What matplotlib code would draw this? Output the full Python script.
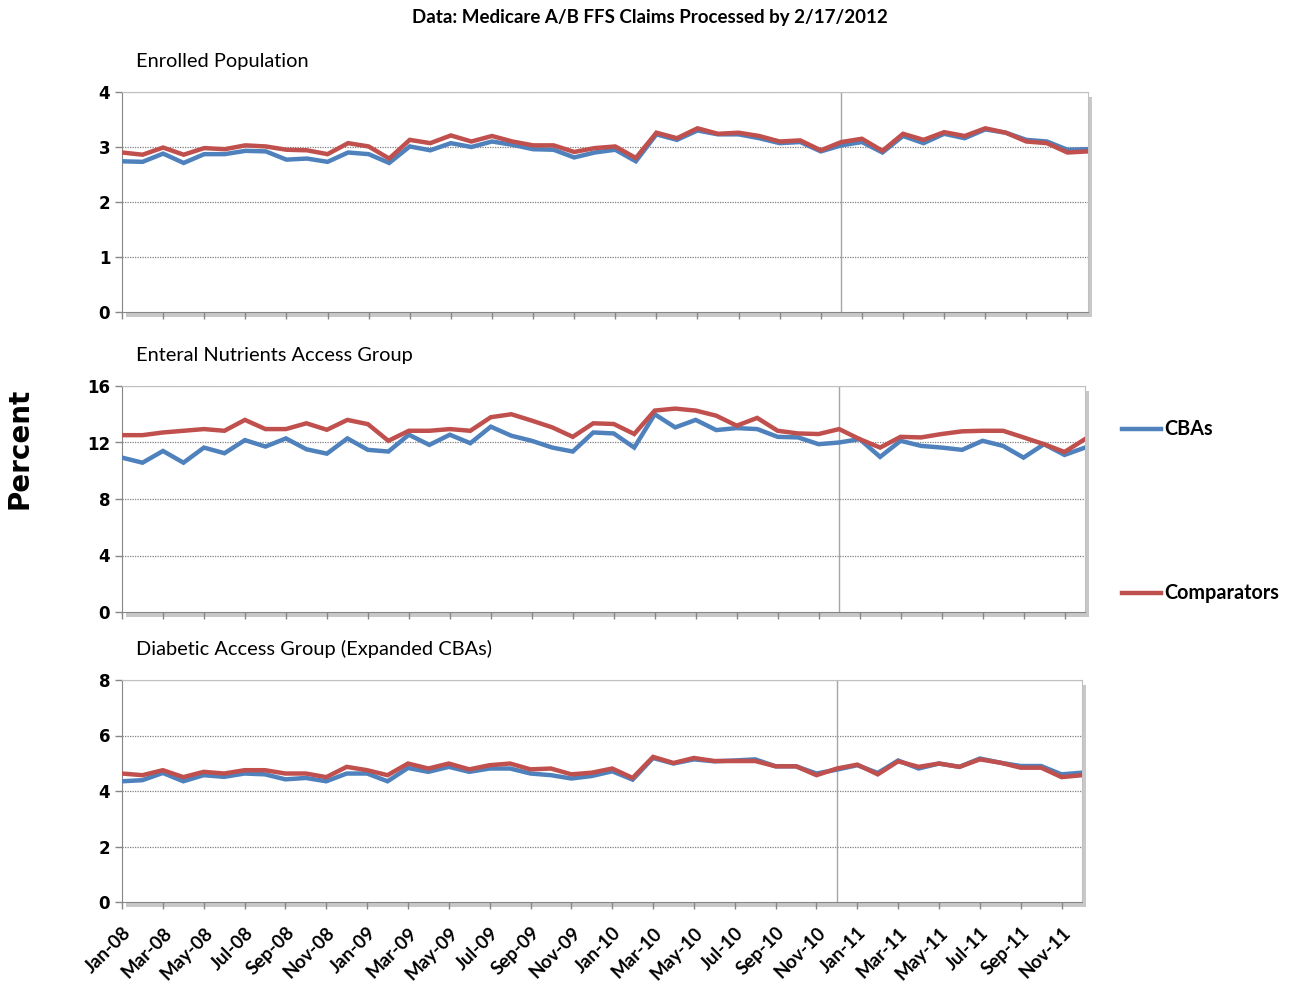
import matplotlib
matplotlib.use('Agg')
import matplotlib.pyplot as plt
from matplotlib.patches import Rectangle
import numpy as np

months = ['Jan', 'Feb', 'Mar', 'Apr', 'May', 'Jun', 'Jul', 'Aug', 'Sep', 'Oct', 'Nov', 'Dec']
month_labels = ['%s-%02d' % (m, y) for y in (8, 9, 10, 11) for m in months]

enrolled_cba = [2.74, 2.73, 2.88, 2.71, 2.87, 2.87, 2.93, 2.92, 2.77, 2.79, 2.73, 2.90,
                2.87, 2.71, 3.01, 2.94, 3.07, 3.00, 3.10, 3.04, 2.96, 2.95, 2.81, 2.90,
                2.95, 2.74, 3.23, 3.13, 3.30, 3.23, 3.23, 3.16, 3.07, 3.09, 2.92, 3.03,
                3.09, 2.90, 3.20, 3.07, 3.24, 3.16, 3.32, 3.26, 3.13, 3.10, 2.95, 2.96]
enrolled_comp = [2.90, 2.86, 2.99, 2.86, 2.98, 2.96, 3.03, 3.01, 2.95, 2.94, 2.87, 3.07,
                 3.01, 2.79, 3.13, 3.07, 3.21, 3.10, 3.20, 3.10, 3.03, 3.03, 2.91, 2.98,
                 3.01, 2.80, 3.26, 3.16, 3.34, 3.24, 3.26, 3.20, 3.10, 3.12, 2.94, 3.09,
                 3.15, 2.93, 3.24, 3.13, 3.27, 3.20, 3.34, 3.26, 3.10, 3.07, 2.90, 2.92]

enteral_cba = [10.93, 10.57, 11.40, 10.57, 11.64, 11.24, 12.17, 11.71, 12.29, 11.52, 11.21, 12.29,
               11.48, 11.36, 12.55, 11.83, 12.55, 11.95, 13.12, 12.48, 12.12, 11.64, 11.36, 12.71,
               12.64, 11.64, 14.00, 13.07, 13.60, 12.88, 13.02, 12.95, 12.40, 12.36, 11.88, 12.00,
               12.24, 10.98, 12.12, 11.76, 11.64, 11.48, 12.12, 11.76, 10.93, 11.88, 11.12, 11.64]
enteral_comp = [12.52, 12.52, 12.71, 12.83, 12.95, 12.83, 13.60, 12.95, 12.95, 13.36, 12.90, 13.60,
                13.30, 12.12, 12.83, 12.83, 12.95, 12.83, 13.79, 14.00, 13.55, 13.07, 12.40, 13.36,
                13.31, 12.60, 14.26, 14.40, 14.26, 13.90, 13.19, 13.74, 12.83, 12.64, 12.60, 12.95,
                12.24, 11.64, 12.40, 12.36, 12.60, 12.79, 12.83, 12.83, 12.36, 11.88, 11.33, 12.24]

diabetic_cba = [4.35, 4.39, 4.65, 4.35, 4.57, 4.51, 4.63, 4.60, 4.42, 4.47, 4.35, 4.63,
                4.63, 4.35, 4.83, 4.69, 4.87, 4.69, 4.81, 4.81, 4.63, 4.57, 4.45, 4.54,
                4.71, 4.41, 5.19, 4.99, 5.14, 5.07, 5.10, 5.14, 4.89, 4.89, 4.63, 4.77,
                4.93, 4.65, 5.10, 4.81, 4.99, 4.87, 5.17, 5.02, 4.90, 4.90, 4.60, 4.66]
diabetic_comp = [4.63, 4.57, 4.75, 4.50, 4.69, 4.63, 4.75, 4.75, 4.63, 4.63, 4.50, 4.87,
                 4.75, 4.57, 4.99, 4.81, 4.99, 4.78, 4.93, 4.99, 4.78, 4.81, 4.60, 4.66,
                 4.81, 4.47, 5.23, 5.01, 5.19, 5.08, 5.08, 5.08, 4.89, 4.89, 4.57, 4.81,
                 4.95, 4.60, 5.07, 4.87, 4.99, 4.87, 5.14, 5.02, 4.84, 4.84, 4.50, 4.57]

panel_titles = ['Enrolled Population', 'Enteral Nutrients Access Group',
                'Diabetic Access Group (Expanded CBAs)']
panel_yticks = [[0, 1, 2, 3, 4], [0, 4, 8, 12, 16], [0, 2, 4, 6, 8]]
series = [(enrolled_cba, enrolled_comp), (enteral_cba, enteral_comp),
          (diabetic_cba, diabetic_comp)]
marker_month = 35  # Dec-10

BLUE = '#4F81BD'
RED = '#C0504D'
narrow = ['Lato', 'DejaVu Sans']

W, H = 1295, 988
fig = plt.figure(figsize=(W / 100, H / 100), dpi=100)

# axes boxes in pixels: left, top, right, bottom
boxes = [(122, 92, 1088, 312), (122, 386, 1085, 612), (122, 680, 1082, 902)]
title_y = [62, 355, 649]

x = np.arange(len(month_labels))
for k, (box, (cba, comp)) in enumerate(zip(boxes, series)):
    l, t, r, b = box
    ax = fig.add_axes([l / W, 1 - b / H, (r - l) / W, (b - t) / H])
    # plot area shadow
    fig.patches.append(Rectangle(((l + 4) / W, 1 - (b + 5) / H), (r - l) / W, (b - t) / H,
                                 transform=fig.transFigure, facecolor='#C8C8C8',
                                 edgecolor='none', zorder=-1))
    ax.plot(x, cba, color=BLUE, lw=3.2, solid_joinstyle='miter', zorder=3)
    ax.plot(x, comp, color=RED, lw=3.2, solid_joinstyle='miter', zorder=4)
    ax.axvline(marker_month, color='#A6A6A6', lw=1, zorder=2)
    yt = panel_yticks[k]
    ax.set_ylim(yt[0], yt[-1])
    ax.set_yticks(yt)
    ax.set_xlim(0, len(month_labels) - 1)
    ax.set_xticks(x[::2])
    for v in yt[1:]:
        ax.axhline(v, color='#808080', lw=0.9, ls=(0, (1, 1)), zorder=1)
    for s in ['top', 'right']:
        ax.spines[s].set_color('#C0C0C0')
    for s in ['left', 'bottom']:
        ax.spines[s].set_color('#868686')
    ax.tick_params(axis='both', colors='#868686', length=5, width=1, labelcolor='black')
    ax.tick_params(axis='x', pad=11)
    for lab in ax.get_yticklabels():
        lab.set_fontweight('bold')
        lab.set_fontsize(12)
    if k == 2:
        ax.set_xticklabels(month_labels[::2], rotation=45, ha='right', va='top',
                           rotation_mode='anchor', fontweight='bold', fontsize=13.5,
                           family=narrow)
    else:
        ax.set_xticklabels([])
    fig.text(136 / W, 1 - title_y[k] / H, panel_titles[k], fontsize=14.4, family=narrow,
             ha='left', va='center')

fig.text(650 / W, 1 - 17 / H, 'Data: Medicare A/B FFS Claims Processed by 2/17/2012',
         fontsize=13.5, fontweight='bold', family=narrow, ha='center', va='center')
fig.text(20 / W, 1 - 448 / H, 'Percent', rotation=90, fontsize=20, fontweight='bold',
         ha='center', va='center')

# legend
for yy, col, name in [(429, BLUE, 'CBAs'), (593, RED, 'Comparators')]:
    fig.add_artist(plt.Line2D([1122 / W, 1161 / W], [1 - yy / H, 1 - yy / H],
                              color=col, lw=3.2, transform=fig.transFigure))
    fig.text(1164 / W, 1 - yy / H, name, fontsize=14.2, fontweight='bold', family=narrow,
             ha='left', va='center')

fig.savefig('out.png', dpi=100)
